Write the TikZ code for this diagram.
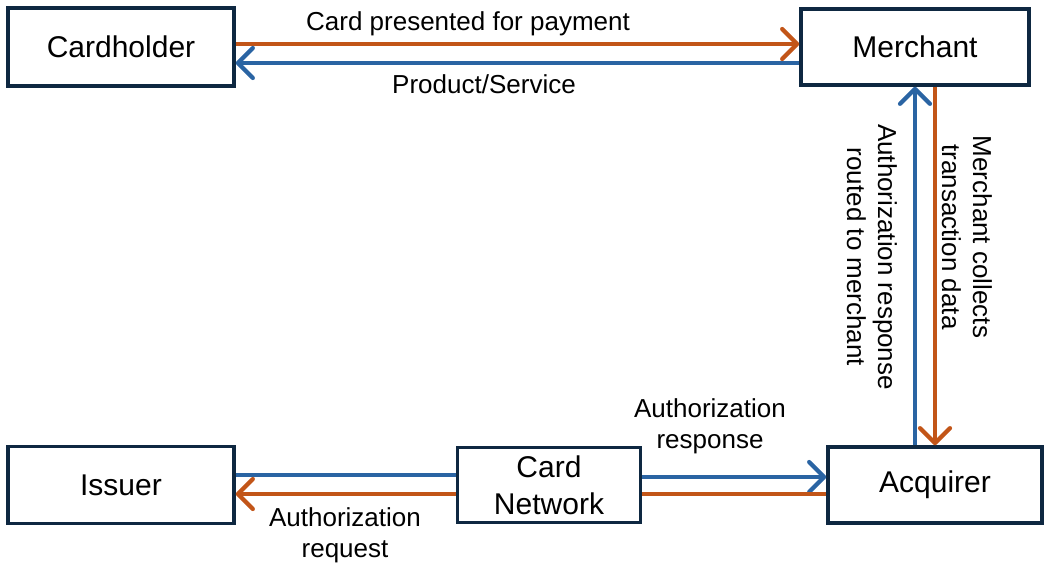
\documentclass[tikz,border=0pt]{standalone}
\usepackage{fontspec}
\setmainfont{Liberation Sans}
\usetikzlibrary{arrows.meta}
\definecolor{boxline}{HTML}{0E2841}
\definecolor{flowblue}{HTML}{2A64A3}
\definecolor{floworange}{HTML}{C25518}
\tikzset{
  party/.style={draw=boxline, line width=3.5pt, fill=white, align=center,
                font=\fontsize{30}{37}\selectfont, inner sep=0pt},
  flowtip/.tip={Straight Barb[length=15pt, width=30pt, line cap=round, line join=round]}
}

\begin{document}
\begin{tikzpicture}[x=1pt, y=-1pt,
  % forward flow (card data, requests)
  orangeflow/.style = {draw=floworange, line width=4.2pt},
  % return flow (responses, goods)
  blueflow/.style   = {draw=flowblue, line width=4.2pt},
  % arrow label text
  lbl/.style        = {font=\fontsize{26}{31}\selectfont, align=center, inner sep=0pt},
]
\useasboundingbox (0,0) rectangle (1044,567);

% ──────────────────────────
%  The five parties
% ──────────
\node[party, minimum width=226pt, minimum height=78pt] (cardholder) at (121,47) {Cardholder};
\node[party, minimum width=228pt, minimum height=76pt] (merchant)   at (915,47) {Merchant};
\node[party, minimum width=226pt, minimum height=77pt] (issuer)     at (121,485) {Issuer};
\node[party, minimum width=183pt, minimum height=75pt] (network)    at (549,485) {Card\\Network};
\node[party, minimum width=214pt, minimum height=76pt] (acquirer)   at (935,485) {Acquirer};

% ──────────────────────────
%  Cardholder <-> Merchant
% ──────────
\draw[orangeflow, -{flowtip}] ([yshift=3pt]cardholder.east) -- ([yshift=3pt]merchant.west);
\draw[blueflow, -{flowtip}] ([yshift=-16pt]merchant.west) -- ([yshift=-16pt]cardholder.east);

\node[lbl] (paylbl)  at (468,24) {Card presented for payment};
\node[lbl] (goodlbl) at (484,84) {Product/Service};

% ──────────────────────────
%  Merchant <-> Acquirer
% ──────────
\draw[blueflow, -{flowtip}] (merchant.south |- acquirer.north) -- (merchant.south);
\draw[orangeflow, -{flowtip}] (acquirer.north |- merchant.south) -- (acquirer.north);

\node[lbl, rotate=-90] (routelbl)   at (872,257) {Authorization response\\routed to merchant};
\node[lbl, rotate=-90] (collectlbl) at (967,237) {Merchant collects\\transaction data};

% ──────────────────────────
%  Acquirer <-> Card Network <-> Issuer
% ──────────
\draw[blueflow] ([yshift=10pt]network.west) -- ([yshift=10pt]issuer.east);
\draw[orangeflow, -{flowtip}] ([yshift=-9pt]network.west) -- ([yshift=-9pt]issuer.east);
\draw[blueflow, -{flowtip}] ([yshift=8pt]network.east) -- ([yshift=8pt]acquirer.west);
\draw[orangeflow] ([yshift=-9pt]acquirer.west) -- ([yshift=-9pt]network.east);

\node[lbl] (resplbl) at (710,426) {Authorization\\response};
\node[lbl] (reqlbl)  at (345,535) {Authorization\\request};

\end{tikzpicture}
\end{document}
